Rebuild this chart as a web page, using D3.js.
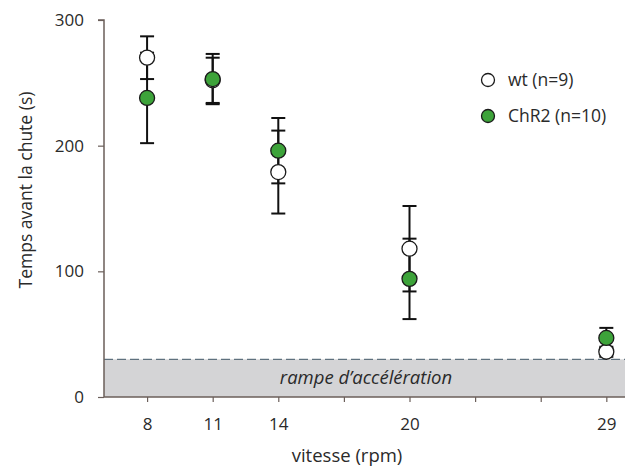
<!DOCTYPE html>
<html><head><meta charset="utf-8">
<script src="https://cdn.jsdelivr.net/npm/d3@7"></script>
<style>body{margin:0;background:#fff}svg{display:block}text{font-family:"Open Sans","Noto Sans",sans-serif}</style>
</head><body><svg id="c" width="630" height="470"></svg>
<script>
const speeds = [8, 11, 14, 20, 29];
const tickSpeeds = [8, 11, 14, 17, 20, 23, 26, 29];
const tickLabels = ["8", "11", "14", "", "20", "", "", "29"];
const wtMean = [270, 252, 179, 118, 36];
const wtErr = [17, 18, 33, 34, 4];
const chrMean = [238, 253, 196, 94, 47];
const chrErr = [36, 20, 26, 32, 8];
const yTicks = [0, 100, 200, 300];
const rampLevel = 30;
const seriesNames = ["wt (n=9)", "ChR2 (n=10)"];

const svg = d3.select("#c");
const x = d3.scaleLinear().domain([6.03, 30.86]).range([104, 647]);
const y = d3.scaleLinear().domain([0, 300]).range([397, 20]);
const xr = 625;
const axisCol = "#6b5f5a", textCol = "#2a2a2a";

// ramp band
svg.append("rect").attr("x", x(6.03)).attr("y", y(rampLevel)).attr("width", xr - x(6.03))
  .attr("height", y(0) - y(rampLevel)).attr("fill", "#d4d4d6");
svg.append("line").attr("x1", x(6.03)).attr("x2", xr).attr("y1", y(rampLevel)).attr("y2", y(rampLevel))
  .attr("stroke", "#3f5566").attr("stroke-width", 1).attr("stroke-dasharray", "9,4");
svg.append("text").attr("x", 366).attr("y", y(rampLevel / 2) + 6).attr("text-anchor", "middle")
  .attr("font-style", "italic").attr("font-size", 18.5).attr("fill", textCol).text("rampe d\u2019acc\u00e9l\u00e9ration");

// axes
const yAxis = d3.axisLeft(y).tickValues(yTicks).tickSize(6).tickPadding(14);
const gy = svg.append("g").attr("transform", "translate(104,0)").call(yAxis);
gy.select(".domain").attr("stroke", axisCol).attr("stroke-width", 1.5).attr("d", `M-6,${y(300)}H0V${y(0)}`);
gy.selectAll(".tick line").attr("stroke", axisCol).attr("stroke-width", 1.2);
gy.selectAll(".tick text").attr("font-size", 17).attr("fill", textCol);

const xAxis = d3.axisBottom(x).tickValues(tickSpeeds).tickFormat((d, i) => tickLabels[i]).tickSize(5).tickPadding(16);
const gx = svg.append("g").attr("transform", `translate(0,${y(0)})`).call(xAxis);
gx.select(".domain").attr("stroke", axisCol).attr("stroke-width", 1.5).attr("d", `M104,0H${xr}`);
gx.selectAll(".tick line").attr("stroke", axisCol).attr("stroke-width", 1.2);
gx.selectAll(".tick text").attr("font-size", 17).attr("fill", textCol);

svg.append("text").attr("transform", `translate(32,190) rotate(-90)`).attr("text-anchor", "middle")
  .attr("font-size", 17.5).attr("fill", textCol).text("Temps avant la chute (s)");
svg.append("text").attr("x", 347).attr("y", 462).attr("text-anchor", "middle")
  .attr("font-size", 18.5).attr("fill", textCol).text("vitesse (rpm)");

function drawBars(means, errs) {
  const g = svg.append("g");
  speeds.forEach((s, i) => {
    const cx = x(s), hi = y(means[i] + errs[i]), lo = y(means[i] - errs[i]);
    g.append("line").attr("x1", cx).attr("x2", cx).attr("y1", hi).attr("y2", lo).attr("stroke", "#111").attr("stroke-width", 2);
    [hi, lo].forEach(v => g.append("line").attr("x1", cx - 7).attr("x2", cx + 7).attr("y1", v).attr("y2", v)
      .attr("stroke", "#111").attr("stroke-width", 2));
  });
}
function drawPoints(means, fill) {
  svg.append("g").selectAll("circle").data(speeds).join("circle")
    .attr("cx", d => x(d)).attr("cy", (d, i) => y(means[i])).attr("r", 7.5)
    .attr("fill", fill).attr("stroke", "#1a1a1a").attr("stroke-width", 1.3);
}
drawBars(chrMean, chrErr);
drawBars(wtMean, wtErr);
drawPoints(wtMean, "#ffffff");
drawPoints(chrMean, "#3da33a");

// legend
const leg = svg.append("g");
[["#ffffff", 80], ["#3da33a", 116]].forEach((c, i) => {
  leg.append("circle").attr("cx", 488).attr("cy", c[1]).attr("r", 6.5).attr("fill", c[0])
    .attr("stroke", "#1a1a1a").attr("stroke-width", 1.3);
  leg.append("text").attr("x", 508).attr("y", c[1] + 6).attr("font-size", 17.5).attr("fill", textCol).text(seriesNames[i]);
});
</script></body></html>
